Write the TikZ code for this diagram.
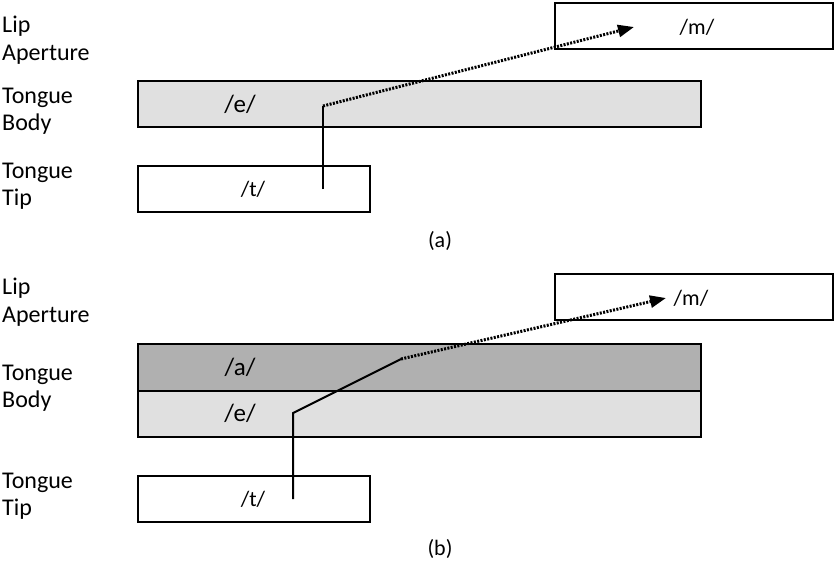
\documentclass[tikz,border=0pt]{standalone}
\usepackage{fontspec}
\setmainfont{Carlito}
\usetikzlibrary{arrows.meta}
\definecolor{lightg}{HTML}{E0E0E0}
\definecolor{darkg}{HTML}{B0B0B0}
\tikzset{
  box/.style={draw=black, line width=2pt, anchor=north west, inner sep=0pt, outer sep=0pt},
  lbl/.style={font=\fontsize{24}{27.5}\selectfont, align=left, anchor=west, inner sep=0pt},
  ph/.style={font=\fontsize{22}{26}\selectfont, inner sep=0pt},
  phb/.style={font=\fontsize{25}{28}\selectfont, inner sep=0pt},
  solidc/.style={line width=2pt},
  dotc/.style={line width=3pt, dash pattern=on 2pt off 1.4pt, -{Triangle[length=16pt,width=12pt]}},
}
\begin{document}
\begin{tikzpicture}[x=1pt,y=-1pt]
\useasboundingbox (0,0) rectangle (835,565);
% ---------- (a) ----------
\node[lbl] (la1) at (2,40) {Lip\\Aperture};
\node[lbl] (la2) at (2,111) {Tongue\\Body};
\node[lbl] (la3) at (2,186) {Tongue\\Tip};
\node[box, minimum width=278pt, minimum height=46pt] (lipa) at (555,3) {};
\node[box, fill=lightg, minimum width=563pt, minimum height=46pt] (bodya) at (138,81) {};
\node[box, minimum width=232pt, minimum height=46pt] (tipa) at (138,166) {};
\node[ph] (ma) at (697,27) {/m/};
\node[phb] (ea) at (240,104) {/e/};
\node[ph] (ta) at (253,189) {/t/};
\coordinate (a0) at (323,189);
\coordinate (a1) at (323,106);
\coordinate (a2) at (634,27);
\draw[solidc] (a0) -- (a1);
\draw[dotc] (a1) -- (a2);
\node[ph] (capa) at (440,241) {(a)};
% ---------- (b) ----------
\node[lbl] (lb1) at (2,302) {Lip\\Aperture};
\node[lbl] (lb2) at (2,388) {Tongue\\Body};
\node[lbl] (lb3) at (2,496) {Tongue\\Tip};
\node[box, minimum width=278pt, minimum height=46pt] (lipb) at (555,274) {};
\node[box, fill=darkg, minimum width=563pt, minimum height=47pt] (bodyb1) at (138,344) {};
\node[box, fill=lightg, minimum width=563pt, minimum height=46pt] (bodyb2) at (138,391) {};
\node[box, minimum width=232pt, minimum height=46pt] (tipb) at (138,476) {};
\node[ph] (mb) at (691,298) {/m/};
\node[phb] (ab) at (240,367) {/a/};
\node[phb] (eb) at (240,413) {/e/};
\node[ph] (tb) at (253,499) {/t/};
\coordinate (b0) at (293,499);
\coordinate (b1) at (293,413);
\coordinate (b2) at (401,359);
\coordinate (b3) at (666,298);
\draw[solidc, line join=miter] (b0) -- (b1) -- (b2);
\draw[dotc] (b2) -- (b3);
\node[ph] (capb) at (440,549) {(b)};
\end{tikzpicture}
\end{document}
